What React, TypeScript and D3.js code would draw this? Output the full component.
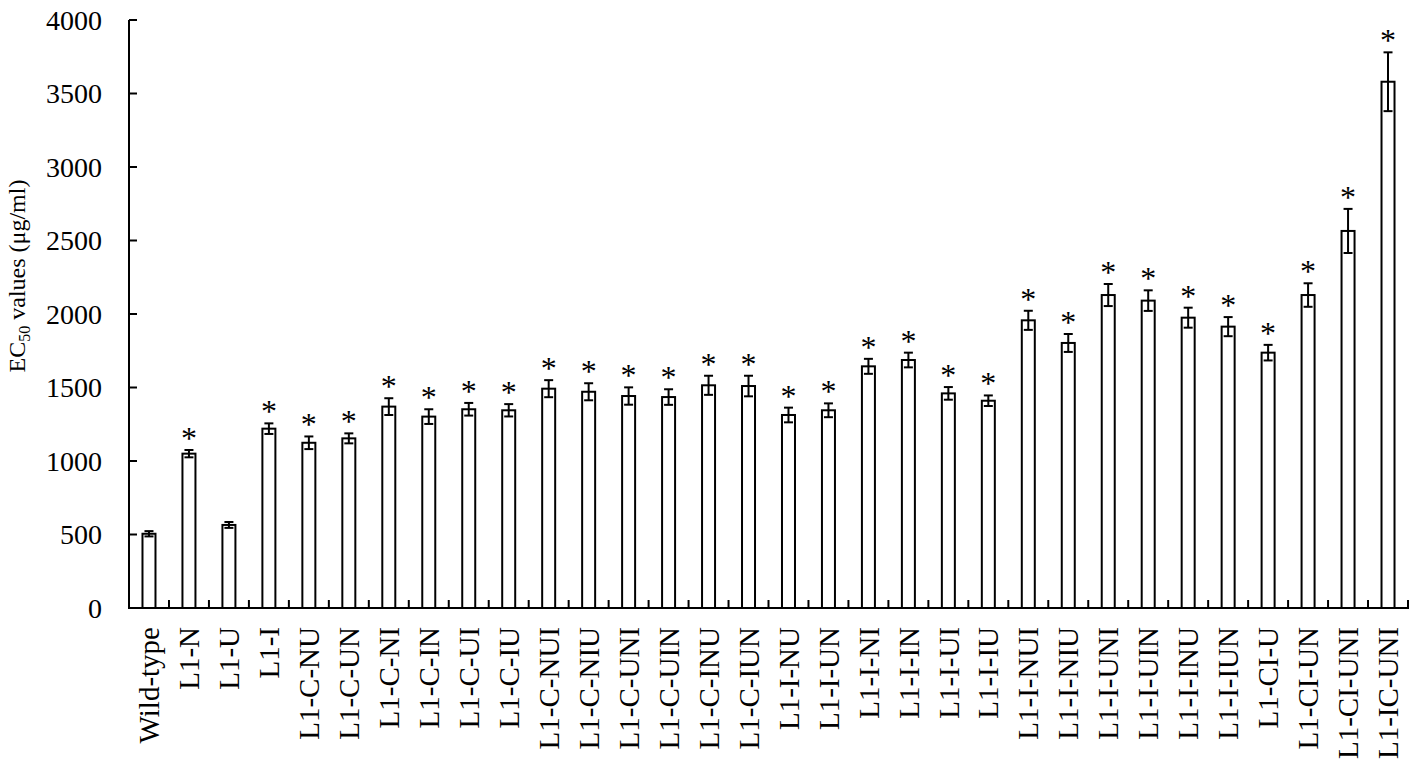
import React, { useEffect, useRef } from "react";
import * as d3 from "d3";

const categories = [
  "Wild-type", "L1-N", "L1-U", "L1-I", "L1-C-NU", "L1-C-UN", "L1-C-NI", "L1-C-IN",
  "L1-C-UI", "L1-C-IU", "L1-C-NUI", "L1-C-NIU", "L1-C-UNI", "L1-C-UIN", "L1-C-INU", "L1-C-IUN",
  "L1-I-NU", "L1-I-UN", "L1-I-NI", "L1-I-IN", "L1-I-UI", "L1-I-IU", "L1-I-NUI", "L1-I-NIU",
  "L1-I-UNI", "L1-I-UIN", "L1-I-INU", "L1-I-IUN", "L1-CI-U", "L1-CI-UN", "L1-CI-UNI", "L1-IC-UNI",
];
const values = [
  505, 1050, 565, 1220, 1124, 1154, 1370, 1302,
  1352, 1345, 1492, 1471, 1442, 1435, 1515, 1510,
  1313, 1345, 1644, 1687, 1460, 1410, 1957, 1803,
  2129, 2091, 1975, 1914, 1737, 2129, 2565, 3580,
];
const errors = [
  18, 25, 20, 36, 43, 34, 57, 50,
  43, 42, 58, 58, 59, 53, 65, 70,
  50, 47, 51, 50, 43, 36, 65, 61,
  75, 70, 68, 65, 53, 80, 150, 200,
];
const significant = [
  false, true, false, true, true, true, true, true,
  true, true, true, true, true, true, true, true,
  true, true, true, true, true, true, true, true,
  true, true, true, true, true, true, true, true,
];
const yTicks = [0, 500, 1000, 1500, 2000, 2500, 3000, 3500, 4000];

const W = 1418;
const H = 765;
const FONT = "'Liberation Serif', 'Times New Roman', serif";

export default function App() {
  const ref = useRef<SVGSVGElement>(null);

  useEffect(() => {
    document.body.style.margin = "0";
    const svg = d3.select(ref.current);
    svg.selectAll("*").remove();

    const x = d3.scaleBand<string>().domain(categories).range([129, 1408]).padding(0);
    const y = d3.scaleLinear().domain([0, 4000]).range([608, 20]);
    const bw = 13;
    const cap = 4.5;

    const g = svg.append("g");

    // bars
    categories.forEach((c, i) => {
      const cx = (x(c) as number) + x.bandwidth() / 2;
      g.append("rect")
        .attr("x", cx - bw / 2)
        .attr("y", y(values[i]))
        .attr("width", bw)
        .attr("height", y(0) - y(values[i]))
        .attr("fill", "#fff")
        .attr("stroke", "#000")
        .attr("stroke-width", 2);
      const hi = y(values[i] + errors[i]);
      const lo = y(values[i] - errors[i]);
      g.append("line").attr("x1", cx).attr("x2", cx).attr("y1", hi).attr("y2", lo)
        .attr("stroke", "#000").attr("stroke-width", 2);
      g.append("line").attr("x1", cx - cap).attr("x2", cx + cap).attr("y1", hi).attr("y2", hi)
        .attr("stroke", "#000").attr("stroke-width", 2);
      g.append("line").attr("x1", cx - cap).attr("x2", cx + cap).attr("y1", lo).attr("y2", lo)
        .attr("stroke", "#000").attr("stroke-width", 2);
      if (significant[i]) {
        g.append("text")
          .attr("x", cx)
          .attr("y", hi - 1)
          .attr("text-anchor", "middle")
          .attr("font-family", FONT)
          .attr("font-size", 32)
          .attr("fill", "#000")
          .text("*");
      }
    });

    // y axis
    g.append("line").attr("x1", 129).attr("x2", 129).attr("y1", y(4000)).attr("y2", y(0))
      .attr("stroke", "#000").attr("stroke-width", 2);
    yTicks.forEach((t) => {
      g.append("line").attr("x1", 129).attr("x2", 137).attr("y1", y(t)).attr("y2", y(t))
        .attr("stroke", "#000").attr("stroke-width", 2);
      g.append("text")
        .attr("x", 102)
        .attr("y", y(t))
        .attr("dy", "0.35em")
        .attr("text-anchor", "end")
        .attr("font-family", FONT)
        .attr("font-size", 28)
        .attr("fill", "#000")
        .text(String(t));
    });

    // x axis
    g.append("line").attr("x1", 128).attr("x2", 1409).attr("y1", y(0)).attr("y2", y(0))
      .attr("stroke", "#000").attr("stroke-width", 2);
    categories.forEach((c, i) => {
      const xr = (x(c) as number) + x.bandwidth();
      g.append("line").attr("x1", xr).attr("x2", xr).attr("y1", y(0)).attr("y2", y(0) - 8)
        .attr("stroke", "#000").attr("stroke-width", 2);
      const cx = (x(c) as number) + x.bandwidth() / 2;
      g.append("text")
        .attr("transform", `translate(${cx},627) rotate(-90)`)
        .attr("dy", "0.35em")
        .attr("text-anchor", "end")
        .attr("font-family", FONT)
        .attr("font-size", 29)
        .attr("fill", "#000")
        .text(c);
    });

    // y title
    const title = g.append("text")
      .attr("transform", `translate(25,276) rotate(-90)`)
      .attr("text-anchor", "middle")
      .attr("font-family", FONT)
      .attr("font-size", 24)
      .attr("fill", "#000");
    title.append("tspan").text("EC");
    title.append("tspan").attr("font-size", 16).attr("dy", 5).text("50");
    title.append("tspan").attr("dy", -5).text(" values (μg/ml)");
  }, []);

  return <svg ref={ref} width={W} height={H} style={{ display: "block", background: "#fff" }} />;
}
